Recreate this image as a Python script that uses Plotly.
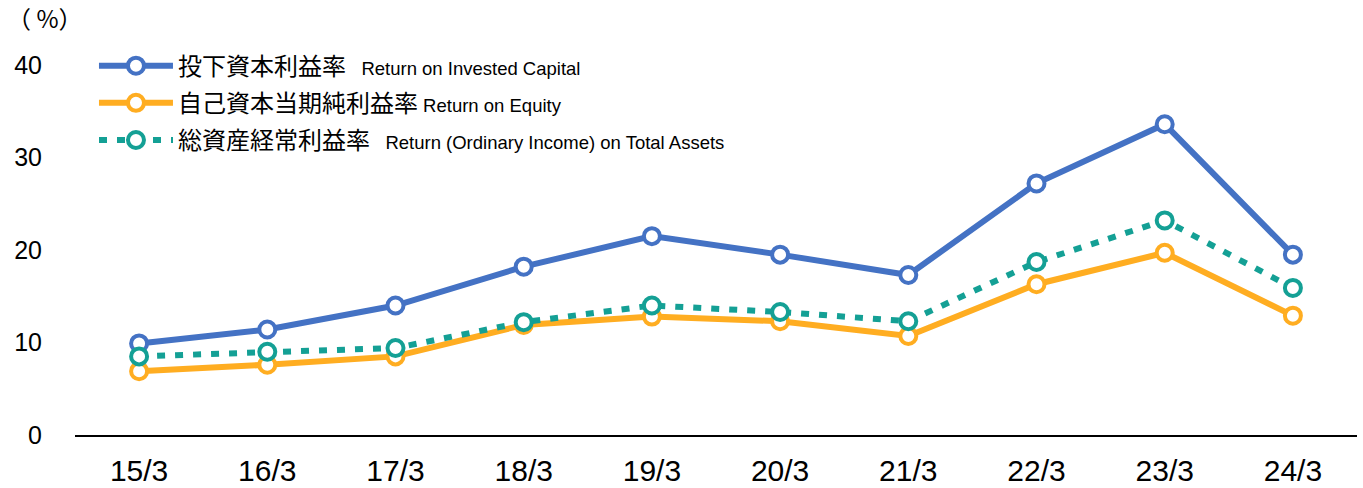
import plotly.graph_objects as go

categories = ["15/3", "16/3", "17/3", "18/3", "19/3", "20/3", "21/3", "22/3", "23/3", "24/3"]
roic = [9.9, 11.4, 14.0, 18.2, 21.5, 19.5, 17.3, 27.2, 33.6, 19.5]
roe = [6.9, 7.6, 8.5, 11.9, 12.8, 12.3, 10.7, 16.3, 19.7, 12.9]
roa = [8.5, 9.0, 9.4, 12.2, 14.0, 13.3, 12.3, 18.7, 23.2, 15.9]

names = [
    "投下資本利益率<span style='font-size:18.5px'>   Return on Invested Capital</span>",
    "自己資本当期純利益率<span style='font-size:18.5px'> Return on Equity</span>",
    "総資産経常利益率<span style='font-size:18.5px'>   Return (Ordinary Income) on Total Assets</span>",
]
colors = ["#4472C4", "#FFAD21", "#14A095"]
dashes = ["solid", "solid", "8px,10px"]
series = [roic, roe, roa]

fig = go.Figure()
for i, (name, vals, c, d) in enumerate(zip(names, series, colors, dashes)):
    fig.add_trace(go.Scatter(
        x=categories, y=vals, name=name, mode="lines+markers", legendgroup=f"g{i}",
        line=dict(color=c, width=6, dash=d),
        marker=dict(symbol="circle", size=16, color="white", line=dict(color=c, width=4)),
    ))

fig.update_layout(
    width=1363, height=488,
    margin=dict(l=75, r=6, t=65, b=53, autoexpand=False),
    paper_bgcolor="white", plot_bgcolor="white",
    font=dict(family="Liberation Sans, Noto Sans CJK JP, sans-serif", color="#000000"),
    showlegend=True,
    legend=dict(
        x=0.0148, y=1.058, xanchor="left", yanchor="top",
        bgcolor="rgba(0,0,0,0)",
        font=dict(size=24, family="Liberation Sans, Noto Sans CJK JP, sans-serif"),
        itemwidth=74, tracegroupgap=3,
    ),
    xaxis=dict(
        type="category", showgrid=False, showline=True, linecolor="#000000", linewidth=1.5,
        ticks="", tickfont=dict(size=30), range=[-0.5, 9.5], ticklabelstandoff=8,
        automargin=False,
    ),
    yaxis=dict(
        range=[0, 40], tickvals=[0, 10, 20, 30, 40], showgrid=False, zeroline=False,
        showline=False, ticks="", tickfont=dict(size=25), ticklabelstandoff=32,
        automargin=False,
    ),
    annotations=[dict(
        text="（ %）", x=0, y=1.0, xref="paper", yref="paper", xanchor="left", yanchor="bottom",
        xshift=-70, yshift=28, showarrow=False, font=dict(size=24, family="Noto Sans CJK JP, sans-serif"),
    )],
)

fig.write_html("out.html", config={"displayModeBar": False},
               post_script="document.body.style.margin='0';document.body.style.overflow='hidden';")
